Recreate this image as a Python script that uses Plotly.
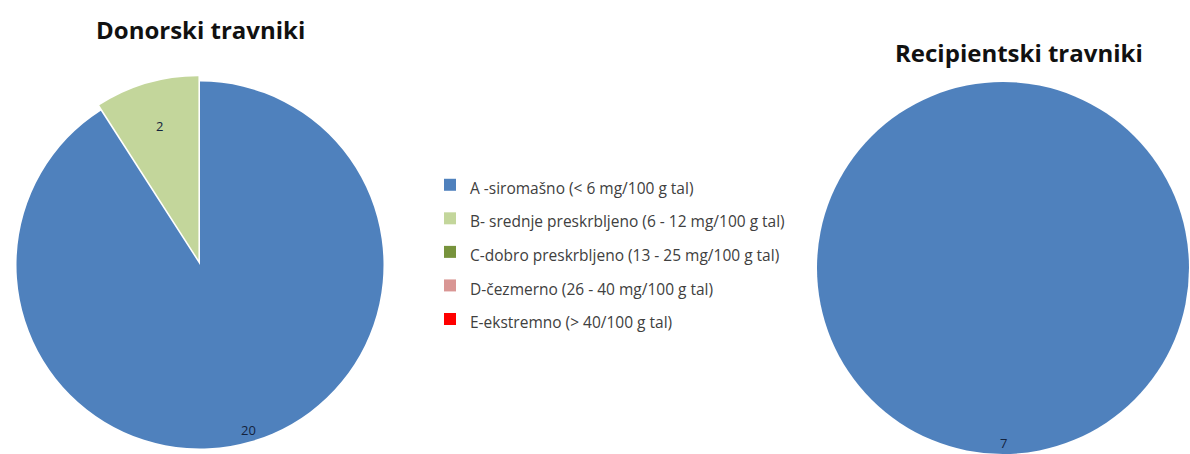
import math
import plotly.graph_objects as go

# Phosphorus supply classes (legend entries) and their colours
classes = [
    "A -siromašno (< 6 mg/100 g tal)",
    "B- srednje preskrbljeno (6 - 12 mg/100 g tal)",
    "C-dobro preskrbljeno (13 - 25 mg/100 g tal)",
    "D-čezmerno (26 - 40 mg/100 g tal)",
    "E-ekstremno (> 40/100 g tal)",
]
class_colors = ["#4F81BD", "#C3D69B", "#77933C", "#D99694", "#FF0000"]

# Number of grassland sites per class
donor_counts = [20, 2, 0, 0, 0]
recipient_counts = [7, 0, 0, 0, 0]

titles = ["Donorski travniki", "Recipientski travniki"]

W, H = 1190, 454
FONT = "Open Sans"
LABEL_COLOR = "#14233d"

# Pie placement in pixels: centre x, centre y (from top), outer radius incl. pull
pies = [
    dict(values=donor_counts, cx=200, cy=265, R=189, pull=0.03,
         title_x=200, title_y=30, label_r=[0.935, 0.79]),
    dict(values=recipient_counts, cx=1003, cy=268, R=186, pull=0.0,
         title_x=1019, title_y=52, label_r=[0.94]),
]

legend_labels = [f'<span style="font-size:15.5px">{c}</span>' for c in classes]

fig = go.Figure()

for k, p in enumerate(pies):
    cx, cy, R = p["cx"], p["cy"], p["R"]
    pulls = [0] * len(classes)
    if p["pull"]:
        pulls[1] = p["pull"]
    fig.add_trace(go.Pie(
        labels=legend_labels,
        values=p["values"],
        sort=False,
        direction="clockwise",
        rotation=0,
        pull=pulls,
        marker=dict(colors=class_colors, line=dict(width=0)),
        textinfo="none",
        domain=dict(x=[(cx - R) / W, (cx + R) / W],
                    y=[1 - (cy + R) / H, 1 - (cy - R) / H]),
        hoverinfo="label+value",
        showlegend=(k == 0),
    ))

    # value labels on each non-empty slice, placed along the slice bisector
    r = R / (1 + p["pull"])
    total = sum(p["values"])
    start = 0
    j = 0
    for i, v in enumerate(p["values"]):
        if v <= 0:
            continue
        theta = math.radians(360 * (start + v / 2) / total)
        dist = p["label_r"][j] * r
        x = cx + dist * math.sin(theta)
        y = cy - dist * math.cos(theta)
        fig.add_annotation(text=str(v), x=x / W, y=1 - y / H,
                           xref="paper", yref="paper", showarrow=False,
                           xanchor="center", yanchor="middle",
                           font=dict(family=FONT, size=13, color=LABEL_COLOR))
        start += v
        j += 1

    fig.add_annotation(text=f"<b>{titles[k]}</b>",
                       x=p["title_x"] / W, y=1 - p["title_y"] / H,
                       xref="paper", yref="paper", showarrow=False,
                       xanchor="center", yanchor="middle",
                       font=dict(family=FONT, size=24, color="#111111"))

fig.update_layout(
    width=W, height=H,
    margin=dict(l=0, r=0, t=0, b=0),
    paper_bgcolor="white",
    plot_bgcolor="white",
    font=dict(family=FONT, color="#404040"),
    legend=dict(
        x=430 / W, y=1 - 163 / H, xanchor="left", yanchor="top",
        font=dict(family=FONT, size=23.5, color="#404040"),
        traceorder="normal",
        bgcolor="rgba(0,0,0,0)",
    ),
)

fig.write_html("out.html")
